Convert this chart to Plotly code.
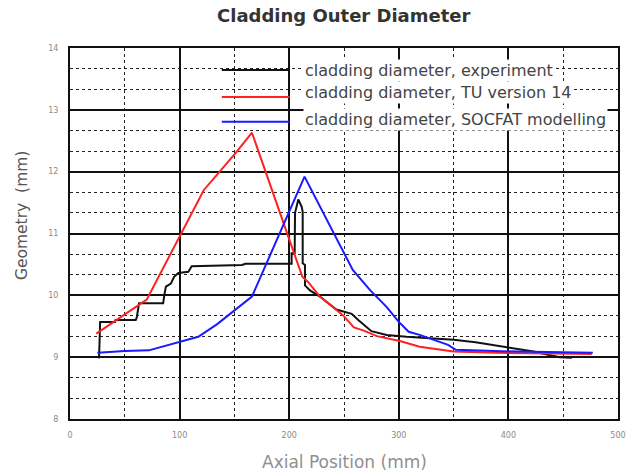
import plotly.graph_objects as go

# ---- data ----
exp_x = [26.5, 27.5, 41, 41.5, 60, 61, 63, 85, 86, 87.5, 92, 95, 98.8, 108, 111, 157, 160,
         202.2, 202.2, 205, 205.3, 208.3, 211.4, 212.3, 212.3, 214.4, 214.4, 219, 228, 243, 257,
         263, 275, 289, 307, 350, 370, 392, 405, 423, 438, 447, 458]
exp_y = [8.98, 9.57, 9.57, 9.60, 9.60, 9.65, 9.87, 9.87, 10.00, 10.14, 10.19, 10.30, 10.36, 10.38,
         10.47, 10.49, 10.51, 10.51, 10.68, 10.68, 11.33, 11.55, 11.43, 11.35, 10.52, 10.49, 10.16,
         10.08, 9.98, 9.77, 9.70, 9.60, 9.42, 9.36, 9.33, 9.28, 9.24, 9.18, 9.14, 9.09, 9.03, 9.00, 8.99]

tu_x = [24, 70, 122, 152, 166, 212, 217, 228, 249, 259, 268, 280, 301, 319, 350, 389, 476]
tu_y = [9.38, 9.93, 11.70, 12.32, 12.63, 10.30, 10.22, 9.98, 9.68, 9.48, 9.43, 9.34, 9.26, 9.17,
        9.09, 9.07, 9.05]

soc_x = [25, 50, 72, 102, 117, 134, 152, 166, 214, 258, 274, 289, 300, 309, 319, 330, 345, 352,
         408, 477]
soc_y = [9.07, 9.10, 9.11, 9.25, 9.33, 9.53, 9.78, 9.98, 11.92, 10.41, 10.08, 9.81, 9.57, 9.41,
         9.36, 9.29, 9.20, 9.12, 9.09, 9.07]

series_names = ["cladding diameter, experiment",
                "cladding diameter, TU version 14",
                "cladding diameter, SOCFAT modelling"]
series_colors = ["#111111", "#ff2020", "#1a1aff"]

x_ticks = [0, 100, 200, 300, 400, 500]
y_ticks = [8, 9, 10, 11, 12, 13, 14]

title_text = "Cladding Outer Diameter"
x_title = "Axial Position (mm)"
y_title = "Geometry  (mm)"

# ---- figure ----
fig = go.Figure()
for xs, ys, name, col in zip([exp_x, tu_x, soc_x], [exp_y, tu_y, soc_y], series_names, series_colors):
    fig.add_trace(go.Scatter(x=xs, y=ys, mode="lines", name=name,
                             line=dict(color=col, width=2), showlegend=False,
                             hoverinfo="skip"))

axis_common = dict(
    showline=True, mirror=True, linecolor="#111111", linewidth=2,
    showgrid=True, gridcolor="#111111", gridwidth=1.6,
    zeroline=False, ticks="",
    tickfont=dict(family="DejaVu Sans", size=8, color="#8a8a8a"),
)

fig.update_xaxes(range=[0, 500], tickvals=x_ticks, ticktext=[str(v) for v in x_ticks],
                 minor=dict(dtick=50, tick0=0, showgrid=True, gridcolor="#222222",
                            gridwidth=1.3, griddash="dot"),
                 ticklabelstandoff=7, **axis_common)
fig.update_yaxes(range=[8, 14], tickvals=y_ticks, ticktext=[str(v) for v in y_ticks],
                 minor=dict(dtick=1/3, tick0=8, showgrid=True, gridcolor="#222222",
                            gridwidth=1.3, griddash="dot"),
                 ticklabelstandoff=8, **axis_common)

# legend drawn as lines + labels (no frame, text on white)
leg_rows_y = [0.9407, 0.868, 0.801]
leg_text_y = [0.9407, 0.881, 0.8086]
for i, (name, col) in enumerate(zip(series_names, series_colors)):
    fig.add_shape(type="line", xref="paper", yref="paper",
                  x0=0.277, x1=0.401, y0=leg_rows_y[i], y1=leg_rows_y[i],
                  line=dict(color=col, width=2))
    fig.add_annotation(xref="paper", yref="paper", x=0.425, y=leg_text_y[i],
                       xanchor="left", yanchor="middle", showarrow=False,
                       text=name, bgcolor="white", borderpad=1,
                       font=dict(family="DejaVu Sans", size=16, color="#444444"))

fig.add_annotation(xref="paper", yref="paper", x=0.5, y=1.0, yshift=33,
                   xanchor="center", yanchor="middle", showarrow=False,
                   text="<b>" + title_text + "</b>",
                   font=dict(family="DejaVu Sans", size=18, color="#333333"))
fig.add_annotation(xref="paper", yref="paper", x=0.5, y=0, yshift=-43,
                   xanchor="center", yanchor="middle", showarrow=False,
                   text=x_title,
                   font=dict(family="DejaVu Sans", size=17, color="#8f8f8f"))
fig.add_annotation(xref="paper", yref="paper", x=0, xshift=-48, y=0.547,
                   xanchor="center", yanchor="middle", showarrow=False, textangle=-90,
                   text=y_title,
                   font=dict(family="DejaVu Sans", size=15.5, color="#555555"))

fig.update_layout(
    width=637, height=475,
    margin=dict(l=70, r=19, t=48, b=56),
    paper_bgcolor="white", plot_bgcolor="white",
    showlegend=False, hovermode=False,
)

fig.write_html("out.html", config={"displayModeBar": False},
               post_script="document.body.style.margin='0';document.body.style.overflow='hidden';")
